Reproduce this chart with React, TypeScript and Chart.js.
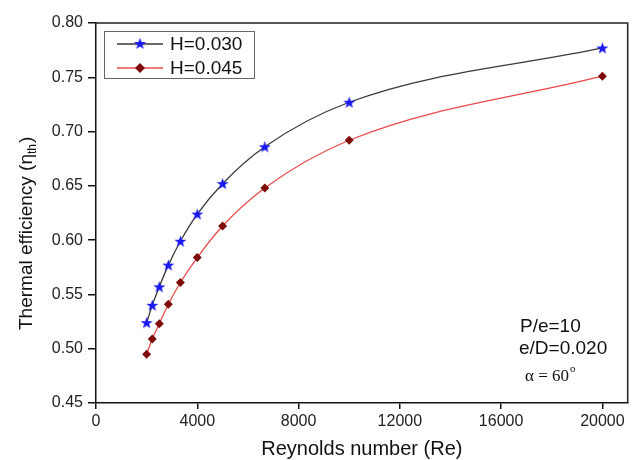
import React, { useEffect, useRef } from "react";
import { Chart, registerables } from "chart.js";

Chart.register(...registerables);

const reynolds = [2000, 2222, 2500, 2857, 3333, 4000, 5000, 6667, 10000, 20000];
const effH030 = [0.524, 0.54, 0.557, 0.577, 0.599, 0.624, 0.652, 0.686, 0.727, 0.777];
const effH045 = [0.495, 0.509, 0.523, 0.541, 0.561, 0.584, 0.613, 0.648, 0.692, 0.751];
const xTicks = [0, 4000, 8000, 12000, 16000, 20000];
const yTicks = [0.45, 0.5, 0.55, 0.6, 0.65, 0.7, 0.75, 0.8];
const seriesLabels = ["H=0.030", "H=0.045"];
const noteLines = ["P/e=10", "e/D=0.020"];
const angleNote = "\u03b1 = 60";

const FONT = 'Arial, "Liberation Sans", sans-serif';

function makeStar(color: string) {
  const c = document.createElement("canvas");
  c.width = 13;
  c.height = 13;
  const g = c.getContext("2d")!;
  g.fillStyle = color;
  g.beginPath();
  const cx = 6.5, cy = 7, R = 6.3, r = 2.6;
  for (let i = 0; i < 10; i++) {
    const ang = -Math.PI / 2 + (i * Math.PI) / 5;
    const rad = i % 2 === 0 ? R : r;
    const px = cx + rad * Math.cos(ang);
    const py = cy + rad * Math.sin(ang);
    if (i === 0) g.moveTo(px, py);
    else g.lineTo(px, py);
  }
  g.closePath();
  g.fill();
  return c;
}

export default function App() {
  const ref = useRef<HTMLCanvasElement | null>(null);
  useEffect(() => {
    document.body.style.margin = "0";
    const star = makeStar("#1a1af0");
    const diamondColor = "#7e0a0a";
    const line1 = "#3a3a3a";
    const line2 = "#ec4a4a";

    const decor = {
      id: "decor",
      afterDraw(chart: any) {
        const ctx = chart.ctx as CanvasRenderingContext2D;
        const a = chart.chartArea;
        ctx.save();
        // frame top/right
        ctx.strokeStyle = "#222";
        ctx.lineWidth = 1.5;
        ctx.beginPath();
        ctx.moveTo(a.left, a.top);
        ctx.lineTo(a.right, a.top);
        ctx.lineTo(a.right, a.bottom);
        ctx.stroke();

        // legend
        ctx.strokeStyle = "#666";
        ctx.lineWidth = 1;
        ctx.strokeRect(104.5, 31.5, 150, 47);
        const rows = [44, 68];
        const colors = [line1, line2];
        rows.forEach((ry, i) => {
          ctx.strokeStyle = colors[i];
          ctx.lineWidth = 1.3;
          ctx.beginPath();
          ctx.moveTo(117, ry);
          ctx.lineTo(163, ry);
          ctx.stroke();
          if (i === 0) {
            ctx.drawImage(star, 140 - 6.5, ry - 7);
          } else {
            ctx.fillStyle = diamondColor;
            ctx.beginPath();
            ctx.moveTo(140, ry - 5);
            ctx.lineTo(145, ry);
            ctx.lineTo(140, ry + 5);
            ctx.lineTo(135, ry);
            ctx.closePath();
            ctx.fill();
          }
          ctx.fillStyle = "#111";
          ctx.font = `19px ${FONT}`;
          ctx.textAlign = "left";
          ctx.textBaseline = "middle";
          ctx.fillText(seriesLabels[i], 170, ry + 1);
        });

        // notes
        ctx.fillStyle = "#111";
        ctx.font = `19px ${FONT}`;
        ctx.textBaseline = "middle";
        ctx.fillText(noteLines[0], 520, 327);
        ctx.fillText(noteLines[1], 519, 349);
        ctx.font = `17px "Liberation Serif", "DejaVu Serif", serif`;
        ctx.fillText(angleNote, 525, 377);
        const w = ctx.measureText(angleNote).width;
        ctx.font = `11px "Liberation Serif", serif`;
        ctx.fillText("o", 525 + w + 1, 369);

        // x title
        ctx.font = `20px ${FONT}`;
        ctx.textAlign = "center";
        ctx.fillStyle = "#111";
        ctx.fillText("Reynolds number (Re)", (a.left + a.right) / 2, 449);

        // y title with subscript
        ctx.translate(27, 330);
        ctx.rotate(-Math.PI / 2);
        ctx.textAlign = "left";
        ctx.font = `19px ${FONT}`;
        const main = "Thermal efficiency (\u03b7";
        ctx.fillText(main, 0, 0);
        let xo = ctx.measureText(main).width;
        ctx.font = `12px ${FONT}`;
        ctx.fillText("th", xo, 6);
        xo += ctx.measureText("th").width;
        ctx.font = `19px ${FONT}`;
        ctx.fillText(")", xo + 1, 0);
        ctx.restore();
      },
    };

    const chart = new Chart(ref.current!, {
      type: "line",
      data: {
        datasets: [
          {
            label: seriesLabels[0],
            data: reynolds.map((x, i) => ({ x, y: effH030[i] })),
            borderColor: line1,
            borderWidth: 1.3,
            pointStyle: star as any,
            pointRadius: 6,
            cubicInterpolationMode: "monotone",
            fill: false,
          },
          {
            label: seriesLabels[1],
            data: reynolds.map((x, i) => ({ x, y: effH045[i] })),
            borderColor: line2,
            borderWidth: 1.3,
            pointStyle: "rectRot",
            pointRadius: 4.5,
            pointBackgroundColor: diamondColor,
            pointBorderColor: diamondColor,
            pointBorderWidth: 0,
            cubicInterpolationMode: "monotone",
            fill: false,
          },
        ],
      },
      options: {
        animation: false,
        responsive: false,
        devicePixelRatio: 1,
        layout: { padding: { left: 0, top: 23, right: 5, bottom: 0 } },
        plugins: { legend: { display: false }, tooltip: { enabled: false } },
        scales: {
          x: {
            type: "linear",
            min: 0,
            max: 21000,
            afterBuildTicks: (s: any) => {
              s.ticks = xTicks.map((v) => ({ value: v }));
            },
            afterFit: (s: any) => {
              s.height = 57;
            },
            ticks: {
              font: { family: FONT, size: 16 },
              color: "#222",
              maxRotation: 0,
              padding: 3,
              callback: (v: any) => String(v),
            },
            grid: {
              drawOnChartArea: false,
              drawTicks: true,
              tickLength: 6,
              color: "#111",
              lineWidth: 1.5,
            },
            border: { display: true, color: "#111", width: 1.5 },
          },
          y: {
            type: "linear",
            min: 0.45,
            max: 0.8,
            afterBuildTicks: (s: any) => {
              s.ticks = yTicks.map((v) => ({ value: v }));
            },
            afterFit: (s: any) => {
              s.width = 96;
            },
            ticks: {
              font: { family: FONT, size: 16 },
              color: "#222",
              padding: 5,
              callback: (v: any) => Number(v).toFixed(2),
            },
            grid: {
              drawOnChartArea: false,
              drawTicks: true,
              tickLength: 8,
              color: "#111",
              lineWidth: 1.5,
            },
            border: { display: true, color: "#111", width: 1.5 },
          },
        },
      },
      plugins: [decor],
    } as any);
    return () => chart.destroy();
  }, []);
  return (
    <div style={{ position: "absolute", left: 0, top: 0, width: 635, height: 460, background: "#fff" }}>
      <canvas ref={ref} width={635} height={460} />
    </div>
  );
}
